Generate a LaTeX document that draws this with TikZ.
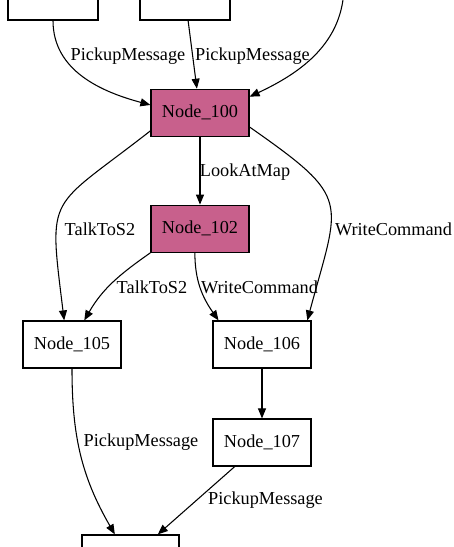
\documentclass[tikz,border=0pt]{standalone}
\usepackage{fontspec}
\setmainfont{Liberation Serif}
\usetikzlibrary{arrows.meta}
\definecolor{statepink}{RGB}{200,96,140}
\begin{document}
\begin{tikzpicture}[x=0.75pt, y=0.75pt,
  state/.style={draw, line width=0.9pt, minimum width=73.5pt, minimum height=35.25pt, inner sep=0pt, font=\rmfamily\fontsize{13.7}{16}\selectfont},
  active/.style={state, fill=statepink},
  trans/.style={-{Triangle[length=7.5pt,width=6pt]}, line width=0.8pt},
  lbl/.style={inner sep=0pt, font=\rmfamily\fontsize{13.7}{16}\selectfont}]
\useasboundingbox (0,0) rectangle (454,-547);
\clip (0,0) rectangle (454,-547);
\node[state, minimum width=67.5pt] (src1) at (53,3.5) {};
\node[state, minimum width=67.5pt] (src2) at (185,3.5) {};
\coordinate (src3) at (344,15);
\node[active] (n100) at (200,-112.8) {Node\_100};
\node[active] (n102) at (200,-228.7) {Node\_102};
\node[state] (n105) at (72,-344.5) {Node\_105};
\node[state] (n106) at (262,-344.5) {Node\_106};
\node[state] (n107) at (262,-442.5) {Node\_107};
\node[state, minimum width=72.75pt] (sink) at (130.5,-558.5) {};

\node[lbl] (l1) at (128,-56) {PickupMessage};
\node[lbl] (l2) at (252.5,-56) {PickupMessage};
\node[lbl] (l3) at (245,-172) {LookAtMap};
\node[lbl] (l4) at (100,-229) {TalkToS2};
\node[lbl] (l5) at (393.5,-229) {WriteCommand};
\node[lbl] (l6) at (152,-287) {TalkToS2};
\node[lbl] (l7) at (259.5,-287) {WriteCommand};
\node[lbl] (l8) at (141,-442) {PickupMessage};
\node[lbl] (l9) at (265.5,-500) {PickupMessage};

\draw[trans] (src1) to[out=-90, in=165] (n100.171);
\draw[trans] (src2) -- (n100);
\draw[trans] (src3) to[out=-90, in=25] (n100.18);
\draw[trans] (n100) -- (n102);
\draw[trans] (n100.200) to[out=218, in=97, looseness=1.6] (n105.108);
\draw[trans] (n100.-16) to[out=-35, in=75, looseness=1.6] (n106.28);
\draw[trans] (n102.south west) to[out=215, in=60] (n105.63);
\draw[trans] (n102.258) to[out=-90, in=125] (n106.151);
\draw[trans] (n106) -- (n107);
\draw[trans] (n105) to[out=-90, in=120] (sink.123);
\draw[trans] (n107) -- (sink);
\end{tikzpicture}
\end{document}
